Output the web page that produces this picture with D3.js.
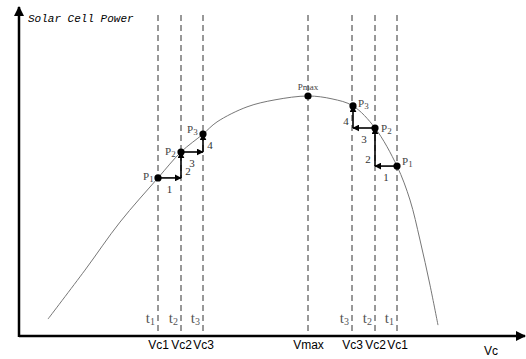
<!DOCTYPE html>
<html><head><meta charset="utf-8">
<script src="https://cdn.jsdelivr.net/npm/d3@7"></script>
<style>body{margin:0;background:#fff}svg{display:block}</style>
</head><body>
<script>
// Data (voltage units 0-100, power units 0-100)
const curveV = [5.8, 13.2, 20.2, 27.8, 32.4, 36.8, 39.6, 45.6, 51.2, 57.8, 62.6, 66.8, 71.2, 75.6, 78.2, 80.2, 82.2, 83.8];
const curveP = [5.3, 20.6, 35.6, 49.4, 57.5, 63.1, 66.9, 71.6, 73.8, 75.0, 74.1, 71.9, 65.0, 53.1, 42.5, 30.0, 15.9, 3.4];
const markerNames = ["Vc1", "Vc2", "Vc3", "Vmax", "Vc3", "Vc2", "Vc1"];
const markerV = [27.8, 32.4, 36.8, 57.8, 66.6, 71.2, 75.6];
const timeLabels = ["1", "2", "3", "", "3", "2", "1"];
const pointNames = ["P1", "P2", "P3", "Pmax", "P3", "P2", "P1"];
const pointV = [27.8, 32.4, 36.8, 57.8, 66.8, 71.2, 75.6];
const pointP = [49.4, 57.5, 63.1, 75.0, 71.9, 65.0, 53.1];
// step arrows: sequence of point indices walked through
const leftSteps = [0, 1, 2];
const rightSteps = [6, 5, 4];
const stepNumbers = ["1", "2", "3", "4"];

const W = 526, H = 359;
const x = d3.scaleLinear().domain([0, 100]).range([19, 519]);
const y = d3.scaleLinear().domain([0, 100]).range([336, 16]);

const svg = d3.select("body").append("svg").attr("width", W).attr("height", H);
const defs = svg.append("defs");
defs.append("marker").attr("id", "ah").attr("viewBox", "0 0 10 10")
  .attr("refX", 9).attr("refY", 5).attr("markerWidth", 7).attr("markerHeight", 7)
  .attr("markerUnits", "userSpaceOnUse").attr("orient", "auto")
  .append("path").attr("d", "M0,0L10,5L0,10Z").attr("fill", "#000");
defs.append("marker").attr("id", "axh").attr("viewBox", "0 0 10 10")
  .attr("refX", 9).attr("refY", 5).attr("markerWidth", 12).attr("markerHeight", 10)
  .attr("markerUnits", "userSpaceOnUse").attr("orient", "auto")
  .append("path").attr("d", "M0,0L10,5L0,10Z").attr("fill", "#000");

// dashed vertical lines
svg.selectAll("line.dash").data(markerV).join("line").attr("class", "dash")
  .attr("x1", d => x(d)).attr("x2", d => x(d))
  .attr("y1", 15).attr("y2", y(0))
  .attr("stroke", "#333").attr("stroke-width", 1).attr("stroke-dasharray", "6,4");

// axes
const xAxis = d3.axisBottom(x).tickValues(markerV).tickSize(0)
  .tickFormat((d, i) => markerNames[i]);
const gx = svg.append("g").attr("transform", `translate(0,${y(0)})`).call(xAxis);
gx.select(".domain").remove();
gx.selectAll("text").attr("dy", 0).attr("y", 13)
  .attr("font-family", "Liberation Sans, Arial, sans-serif").attr("font-size", 12).attr("fill", "#000");
svg.append("line").attr("x1", x(0)).attr("x2", 525).attr("y1", y(0)).attr("y2", y(0))
  .attr("stroke", "#000").attr("stroke-width", 2.5).attr("marker-end", "url(#axh)");
svg.append("line").attr("x1", x(0)).attr("x2", x(0)).attr("y1", y(0) + 1).attr("y2", 7)
  .attr("stroke", "#000").attr("stroke-width", 2.5).attr("marker-end", "url(#axh)");
svg.append("text").attr("x", 491).attr("y", 355).attr("text-anchor", "middle")
  .attr("font-family", "Liberation Sans, Arial, sans-serif").attr("font-size", 12).text("Vc");
svg.append("text").attr("x", 28).attr("y", 22)
  .attr("font-family", "Liberation Mono, DejaVu Sans Mono, monospace").attr("font-style", "italic")
  .attr("font-size", 11).attr("fill", "#000").text("Solar Cell Power");

// time labels
const tl = svg.selectAll("text.t").data(markerV).join("text").attr("class", "t")
  .attr("x", d => x(d) - 3).attr("y", 323).attr("text-anchor", "end")
  .attr("font-family", "Liberation Serif, serif").attr("font-size", 15).attr("fill", "#555");
tl.each(function (d, i) {
  if (!timeLabels[i]) return;
  const t = d3.select(this);
  t.append("tspan").text("t");
  t.append("tspan").attr("font-size", 10).attr("dy", 2).text(timeLabels[i]);
});

// curve
const line = d3.line().x((d, i) => x(curveV[i])).y((d, i) => y(curveP[i])).curve(d3.curveCatmullRom);
svg.append("path").datum(curveV).attr("d", line).attr("fill", "none")
  .attr("stroke", "#777").attr("stroke-width", 1);

// step arrows
function steps(idx, dir) {
  const out = [];
  for (let k = 0; k < idx.length - 1; k++) {
    const a = idx[k], b = idx[k + 1];
    out.push({ x1: pointV[a], y1: pointP[a], x2: pointV[b], y2: pointP[a], n: stepNumbers[2 * k], type: "h" });
    out.push({ x1: pointV[b], y1: pointP[a], x2: pointV[b], y2: pointP[b], n: stepNumbers[2 * k + 1], type: "v" });
  }
  return out.map(o => Object.assign(o, { dir }));
}
const arrows = steps(leftSteps, 1).concat(steps(rightSteps, -1));
svg.selectAll("line.arr").data(arrows).join("line").attr("class", "arr")
  .attr("x1", d => x(d.x1)).attr("y1", d => y(d.y1))
  .attr("x2", d => x(d.x2)).attr("y2", d => y(d.y2))
  .attr("stroke", "#000").attr("stroke-width", 1.6).attr("marker-end", "url(#ah)");
svg.selectAll("text.num").data(arrows).join("text").attr("class", "num")
  .attr("x", d => d.type === "h" ? (x(d.x1) + x(d.x2)) / 2 : x(d.x2) + d.dir * 7)
  .attr("y", d => d.type === "h" ? y(d.y1) + 15 : y(d.y1) - 3)
  .attr("text-anchor", "middle")
  .attr("font-family", "Liberation Serif, serif").attr("font-size", 11).attr("fill", "#333")
  .text(d => d.n);

// points
svg.selectAll("circle.pt").data(pointV).join("circle").attr("class", "pt")
  .attr("cx", d => x(d)).attr("cy", (d, i) => y(pointP[i])).attr("r", 3.6).attr("fill", "#000");

const labelOff = [[-15, 2], [-16, 3], [-16, -1], [0, -6], [5, 1], [6, 4], [5, -1]];
const pl = svg.selectAll("text.pl").data(pointV).join("text").attr("class", "pl")
  .attr("x", (d, i) => x(d) + labelOff[i][0]).attr("y", (d, i) => y(pointP[i]) + labelOff[i][1])
  .attr("text-anchor", (d, i) => i === 3 ? "middle" : "start")
  .attr("font-family", "Liberation Serif, serif").attr("font-size", 11).attr("fill", "#444");
pl.each(function (d, i) {
  const t = d3.select(this), name = pointNames[i];
  if (name === "Pmax") { t.attr("font-size", 9).text("Pmax"); return; }
  t.append("tspan").text("P");
  t.append("tspan").attr("font-size", 9).attr("dy", 2).text(name.slice(1));
});
</script>
</body></html>
